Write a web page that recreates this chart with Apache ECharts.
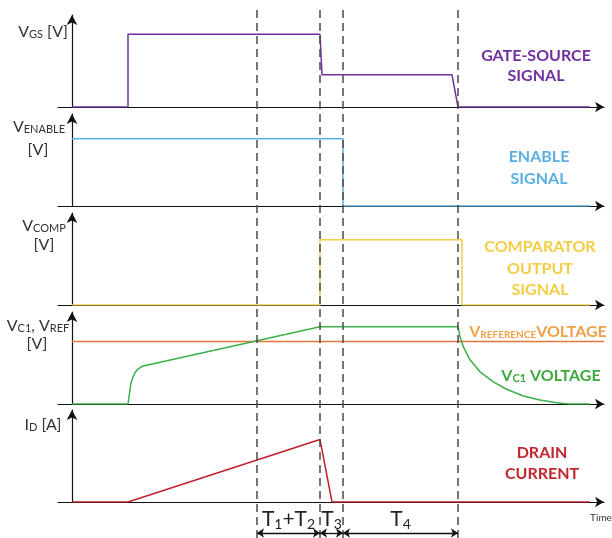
<!DOCTYPE html>
<html><head><meta charset="utf-8">
<script src="https://cdn.jsdelivr.net/npm/echarts@6/dist/echarts.min.js"></script>
<style>html,body{margin:0;padding:0;background:#fff}#c{width:612px;height:538px}</style>
</head><body><div id="c"></div>
<script>
// ---- data (time in arbitrary units, signal levels in arbitrary volts/amps) ----
const timeMin = -7, timeMax = 266;
const eventTimes = [92.5, 124, 135.5, 193];
const intervalStart = [92.5, 124, 135.5];
const intervalEnd   = [124, 135.5, 193];
const intervalLabels = ['T{s|1}+T{s|2}', 'T{s|3}', 'T{s|4}'];
const vgs     = [[0,0],[28,0],[28,7.9],[124,7.9],[125,3.5],[190,3.5],[193,0],[259,0]];
const venable = [[0,7.3],[135.5,7.3],[135.5,0],[259,0]];
const vcomp   = [[0,0],[124,0],[124,7.1],[195,7.1],[195,0],[259,0]];
const vref    = [[0,6.8],[266,6.8]];
const vc1     = [[0,0],[28,0],[29.5,2.3],[30.5,2.9],[31.5,3.4],[32.5,3.7],[35,4.1],[39,4.3],[124,8.4],
                 [193,8.4],[194,7.3],[195.7,6.2],[199,4.8],[204,3.5],[210.7,2.4],[217.3,1.6],
                 [225.7,0.87],[234,0.43],[242.3,0.14],[245.7,0.05],[249,0],[259,0]];
const idrain  = [[0,0],[28,0],[124,6.8],[130,0],[259,0]];

const panelSeries = [
  [{d: vgs, c: '#7030a0'}],
  [{d: venable, c: '#5aafe2'}],
  [{d: vcomp, c: '#f2cf48'}],
  [{d: vref, c: '#e8763a'}, {d: vc1, c: '#3db04a'}],
  [{d: idrain, c: '#c0202c'}]
];
const baselines = [107, 206, 305, 404, 502];
const PH = 92;
const FONT = 'Lato, "Open Sans", sans-serif';

const grids = [], xAxes = [], yAxes = [], series = [];
baselines.forEach((b, i) => {
  grids.push({left: 58, width: 546, top: b - PH, height: PH});
  xAxes.push({type: 'value', gridIndex: i, min: timeMin, max: timeMax,
    axisLine: {show: true, onZero: false, symbol: ['none', 'arrow'], symbolSize: [8, 9], lineStyle: {color: '#111', width: 1.2}},
    axisTick: {show: false}, axisLabel: {show: false}, splitLine: {show: false}});
  yAxes.push({type: 'value', gridIndex: i, min: 0, max: 10,
    axisLine: {show: true, onZero: true, symbol: ['none', 'arrow'], symbolSize: [8, 10], lineStyle: {color: '#111', width: 1.2}},
    axisTick: {show: false}, axisLabel: {show: false}, splitLine: {show: false}});
  panelSeries[i].forEach(s => series.push({type: 'line', xAxisIndex: i, yAxisIndex: i, data: s.d,
    showSymbol: false, symbol: 'none', lineStyle: {color: s.c, width: 1.5}, z: 3, silent: true, animation: false}));
});
// overlay grid for event markers
grids.push({left: 58, width: 546, top: 8, height: 530});
xAxes.push({type: 'value', gridIndex: 5, min: timeMin, max: timeMax, show: false});
yAxes.push({type: 'value', gridIndex: 5, min: 0, max: 53, show: false});
series.push({type: 'line', xAxisIndex: 5, yAxisIndex: 5, data: [], z: 1, silent: true, animation: false,
  markLine: {silent: true, symbol: ['none', 'none'], animation: false,
    lineStyle: {color: '#4a4a4a', width: 1.5, type: [8, 5]}, label: {show: false},
    data: eventTimes.map(t => ({xAxis: t}))}});
series.push({type: 'line', xAxisIndex: 5, yAxisIndex: 5, data: [], z: 2, silent: true, animation: false,
  markLine: {silent: true, symbol: ['arrow', 'arrow'], symbolSize: 7, animation: false,
    lineStyle: {color: '#111', width: 1.3, type: 'solid'},
    label: {show: true, position: 'insideMiddleTop', distance: 2, color: '#222',
      formatter: p => intervalLabels[p.dataIndex],
      rich: {s: {fontSize: 14, fontFamily: FONT, color: '#222', verticalAlign: 'bottom', lineHeight: 16}},
      fontSize: 21, fontFamily: FONT, lineHeight: 24},
    data: intervalStart.map((t, k) => [{coord: [t, 0.5]}, {coord: [intervalEnd[k], 0.5]}])}});

function lbl(text, x, y, opt) {
  return Object.assign({type: 'text', silent: true, z: 10, style: Object.assign({
    text: text, x: x, y: y, align: 'center', verticalAlign: 'middle', font: '16px ' + FONT, fill: '#333'}, opt || {})});
}
const leftRich = {
  v: {fontSize: 16, fontFamily: FONT, fill: '#333', lineHeight: 20, verticalAlign: 'bottom'},
  s: {fontSize: 11, fontFamily: FONT, fill: '#333', lineHeight: 14, verticalAlign: 'bottom'}
};
function richLbl(text, x, y, rich, align) {
  return {type: 'text', silent: true, z: 10, style: {text: text, x: x, y: y, align: align || 'center', verticalAlign: 'middle', rich: rich}};
}
function boldRich(color, big, small) {
  return {
    b: {fontSize: big, fontFamily: FONT, fontWeight: 'bold', fill: color, lineHeight: 22, verticalAlign: 'bottom'},
    s: {fontSize: small, fontFamily: FONT, fontWeight: 'bold', fill: color, lineHeight: 15, verticalAlign: 'bottom'}
  };
}
const graphics = [
  richLbl('{v|V}{s|GS}{v| [V]}', 68, 30, leftRich, 'right'),
  richLbl('{v|V}{s|ENABLE}', 39, 125, leftRich),
  richLbl('{v|[V]}', 38, 148, leftRich),
  richLbl('{v|V}{s|COMP}', 44, 224, leftRich),
  richLbl('{v|[V]}', 44, 243, leftRich),
  richLbl('{v|V}{s|C1}{v|, V}{s|REF}', 38, 324, leftRich),
  richLbl('{v|[V]}', 37, 342, leftRich),
  richLbl('{v|I}{s|D}{v| [A]}', 43, 423, leftRich),
  richLbl('{b|GATE-SOURCE}', 536, 53, boldRich('#7030a0', 16, 11)),
  richLbl('{b|SIGNAL}', 536, 73, boldRich('#7030a0', 16, 11)),
  richLbl('{b|ENABLE}', 539, 154, boldRich('#5aafe2', 16, 11)),
  richLbl('{b|SIGNAL}', 539, 176, boldRich('#5aafe2', 16, 11)),
  richLbl('{b|COMPARATOR}', 540, 244, boldRich('#f5cd45', 16, 11)),
  richLbl('{b|OUTPUT}', 540, 266, boldRich('#f5cd45', 16, 11)),
  richLbl('{b|SIGNAL}', 540, 287, boldRich('#f5cd45', 16, 11)),
  richLbl('{b|V}{s|REFERENCE}{b|VOLTAGE}', 538, 329, boldRich('#f0a04a', 16, 10)),
  richLbl('{b|V}{s|C1}{b| VOLTAGE}', 551, 373, boldRich('#3daa3d', 16, 11)),
  richLbl('{b|DRAIN}', 542, 450, boldRich('#c0282d', 16, 11)),
  richLbl('{b|CURRENT}', 542, 471, boldRich('#c0282d', 16, 11)),
  lbl('Time', 601, 518, {font: '10px ' + FONT, fill: '#333'})
];

const chart = echarts.init(document.getElementById('c'), null, {renderer: 'canvas'});
chart.setOption({animation: false, backgroundColor: '#fff', grid: grids, xAxis: xAxes, yAxis: yAxes, series: series, graphic: graphics});
</script></body></html>
